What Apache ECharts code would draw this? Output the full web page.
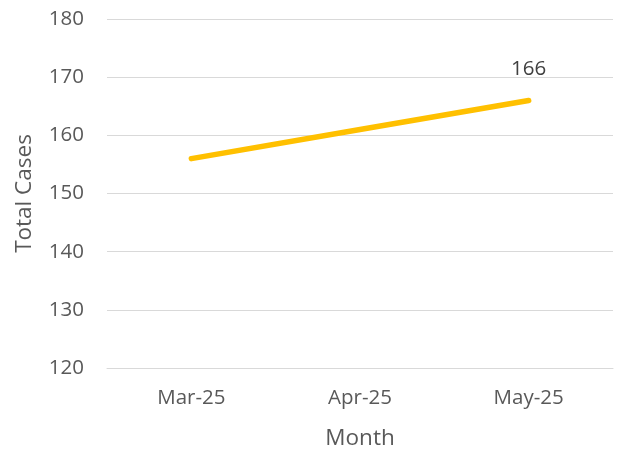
<!DOCTYPE html>
<html>
<head>
<meta charset="utf-8">
<script src="https://cdn.jsdelivr.net/npm/echarts@6/dist/echarts.min.js"></script>
<style>
  html, body { margin: 0; padding: 0; background: #fff; }
  #chart { width: 617px; height: 449px; }
</style>
</head>
<body>
<div id="chart"></div>
<script>
// data
var months = ['Mar-25', 'Apr-25', 'May-25'];
var totalCases = [156, 161, 166];
var yTicks = [120, 130, 140, 150, 160, 170, 180];

var chart = echarts.init(document.getElementById('chart'), null, { renderer: 'canvas' });

var font = '"Open Sans", sans-serif';

chart.setOption({
  animation: false,
  grid: { left: 107, right: 4, top: 19, bottom: 81, outerBoundsMode: 'none', containLabel: false },
  xAxis: {
    type: 'category',
    data: months,
    boundaryGap: true,
    name: 'Month',
    nameLocation: 'middle',
    nameGap: 59,
    nameTextStyle: { color: '#595959', fontSize: 22.5, fontFamily: font },
    axisLine: { show: true, lineStyle: { color: '#d9d9d9', width: 1 } },
    axisTick: { show: false },
    axisLabel: { color: '#595959', fontSize: 20.5, fontFamily: font, margin: 20 }
  },
  yAxis: {
    type: 'value',
    min: yTicks[0],
    max: yTicks[yTicks.length - 1],
    interval: 10,
    name: 'Total Cases',
    nameLocation: 'middle',
    nameGap: 71,
    nameTextStyle: { color: '#595959', fontSize: 22.5, fontFamily: font },
    axisLine: { show: false },
    axisTick: { show: false },
    axisLabel: { color: '#595959', fontSize: 20.5, fontFamily: font, margin: 23 },
    splitLine: { lineStyle: { color: '#d9d9d9', width: 1 } }
  },
  series: [{
    type: 'line',
    data: totalCases,
    symbol: 'none',
    lineStyle: { color: '#ffc000', width: 5.5, cap: 'round' },
    itemStyle: { color: '#ffc000' },
    markPoint: {
      symbol: 'circle',
      symbolSize: 0,
      data: [{ coord: [months.length - 1, totalCases[totalCases.length - 1]], value: totalCases[totalCases.length - 1] }],
      label: {
        show: true,
        position: 'top',
        distance: 21,
        color: '#404040',
        fontSize: 20.5,
        fontFamily: font
      }
    }
  }]
});
</script>
</body>
</html>
